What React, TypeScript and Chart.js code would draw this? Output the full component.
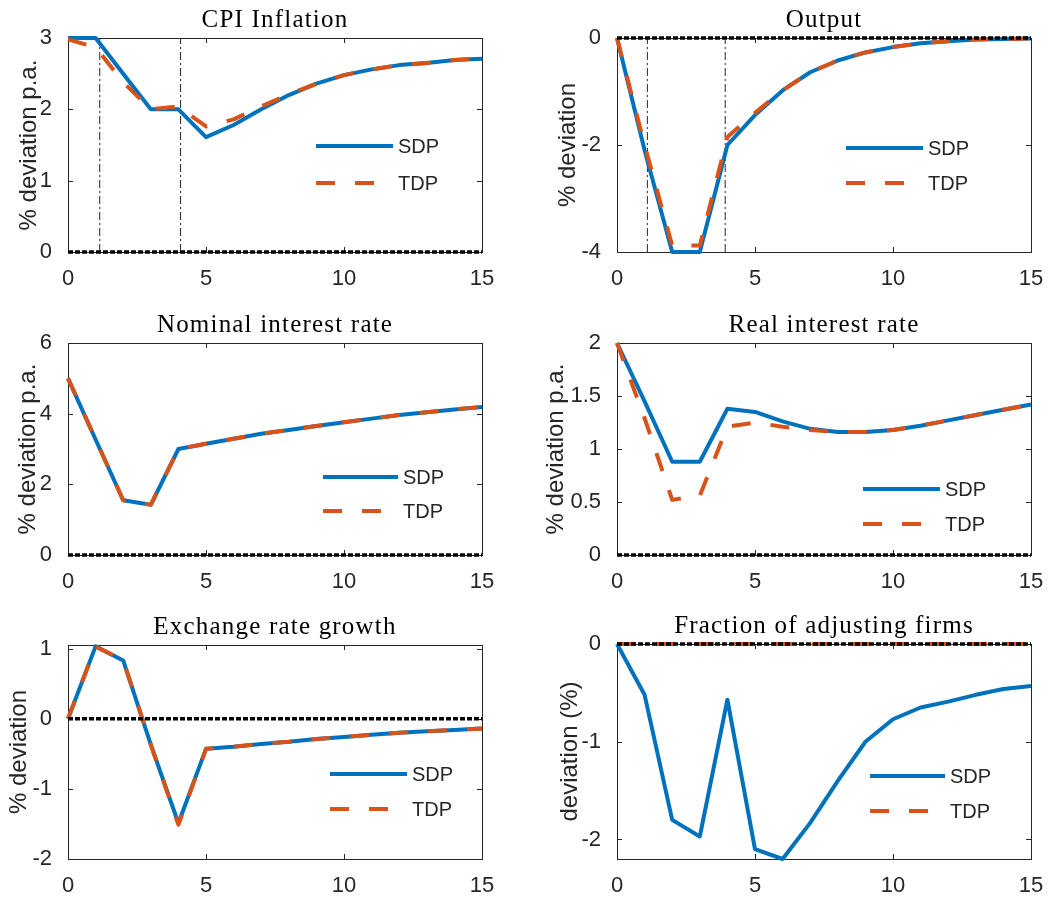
import React, { useEffect, useRef } from "react";
import { Chart, registerables } from "chart.js";

Chart.register(...registerables);

// ---------- data ----------
const periods = [0, 1, 2, 3, 4, 5, 6, 7, 8, 9, 10, 11, 12, 13, 14, 15];
const xTicks = [0, 5, 10, 15];
const seriesNames = ["SDP", "TDP"];

const cpiSDP = [3.0, 3.0, 2.5, 2.0, 2.0, 1.61, 1.78, 2.0, 2.2, 2.36, 2.48, 2.56, 2.62, 2.65, 2.69, 2.71];
const cpiTDP = [2.98, 2.87, 2.38, 2.0, 2.04, 1.76, 1.86, 2.04, 2.21, 2.36, 2.48, 2.56, 2.62, 2.65, 2.69, 2.72];
const cpiTicks = [0, 1, 2, 3];
const cpiMarkers = [1.15, 4.08];

const outputSDP = [0, -2.1, -4.0, -4.0, -2.0, -1.44, -0.98, -0.64, -0.42, -0.27, -0.17, -0.1, -0.06, -0.03, -0.02, -0.01];
const outputTDP = [0, -2.0, -3.88, -3.88, -1.85, -1.4, -0.98, -0.64, -0.42, -0.27, -0.17, -0.1, -0.06, -0.03, -0.02, -0.01];
const outputTicks = [-4, -2, 0];
const outputMarkers = [1.1, 3.92];

const nominalSDP = [5.0, 3.27, 1.55, 1.42, 3.0, 3.15, 3.29, 3.43, 3.54, 3.65, 3.76, 3.86, 3.96, 4.04, 4.12, 4.19];
const nominalTDP = [5.0, 3.27, 1.55, 1.42, 3.0, 3.15, 3.29, 3.43, 3.54, 3.65, 3.76, 3.86, 3.96, 4.04, 4.12, 4.19];
const nominalTicks = [0, 2, 4, 6];

const realSDP = [2.0, 1.45, 0.88, 0.88, 1.38, 1.35, 1.26, 1.19, 1.16, 1.16, 1.18, 1.22, 1.27, 1.32, 1.37, 1.42];
const realTDP = [2.0, 1.29, 0.52, 0.56, 1.21, 1.25, 1.21, 1.18, 1.16, 1.16, 1.18, 1.22, 1.27, 1.32, 1.37, 1.42];
const realTicks = [0, 0.5, 1, 1.5, 2];

const exchangeSDP = [0, 1.03, 0.83, -0.37, -1.49, -0.43, -0.4, -0.36, -0.33, -0.29, -0.26, -0.23, -0.2, -0.18, -0.16, -0.14];
const exchangeTDP = [0, 1.03, 0.83, -0.37, -1.51, -0.43, -0.4, -0.36, -0.33, -0.29, -0.26, -0.23, -0.2, -0.18, -0.16, -0.14];
const exchangeTicks = [-2, -1, 0, 1];

const fractionSDP = [0, -0.52, -1.8, -1.97, -0.57, -2.1, -2.2, -1.83, -1.4, -1.0, -0.77, -0.65, -0.59, -0.52, -0.46, -0.43];
const fractionTDP = [0, 0, 0, 0, 0, 0, 0, 0, 0, 0, 0, 0, 0, 0, 0, 0];
const fractionTicks = [-2, -1, 0];

// ---------- styles ----------
const BLUE = "#0072BD";
const ORANGE = "#D95319";
const AXIS = "#262626";
const SANS = '"Liberation Sans", Arial, Helvetica, sans-serif';
const SERIF = '"Liberation Serif", "Times New Roman", serif';

type Panel = {
  title: string;
  yLabel: string;
  sdp: number[];
  tdp: number[];
  yMin: number;
  yMax: number;
  yTicks: number[];
  markers: number[];
  left: number;
  top: number;
  w: number;
  h: number;
  area: { l: number; r: number; t: number; b: number };
  yLabelGap: number;
  legend: { x1: number; x2: number; y1: number; y2: number };
};

const panels: Panel[] = [
  {
    title: "CPI Inflation", yLabel: "% deviation p.a.", sdp: cpiSDP, tdp: cpiTDP,
    yMin: 0, yMax: 3, yTicks: cpiTicks, markers: cpiMarkers,
    left: 0, top: 0, w: 525, h: 300, area: { l: 68, r: 482, t: 38, b: 252 }, yLabelGap: 39,
    legend: { x1: 316, x2: 393, y1: 146, y2: 183 },
  },
  {
    title: "Output", yLabel: "% deviation", sdp: outputSDP, tdp: outputTDP,
    yMin: -4, yMax: 0, yTicks: outputTicks, markers: outputMarkers,
    left: 525, top: 0, w: 525, h: 300, area: { l: 92, r: 506, t: 38, b: 252 }, yLabelGap: 49,
    legend: { x1: 321, x2: 398, y1: 148, y2: 183 },
  },
  {
    title: "Nominal interest rate", yLabel: "% deviation p.a.", sdp: nominalSDP, tdp: nominalTDP,
    yMin: 0, yMax: 6, yTicks: nominalTicks, markers: [],
    left: 0, top: 300, w: 525, h: 300, area: { l: 68, r: 482, t: 43, b: 255 }, yLabelGap: 40,
    legend: { x1: 323, x2: 398, y1: 177, y2: 211 },
  },
  {
    title: "Real interest rate", yLabel: "% deviation p.a.", sdp: realSDP, tdp: realTDP,
    yMin: 0, yMax: 2, yTicks: realTicks, markers: [],
    left: 525, top: 300, w: 525, h: 300, area: { l: 92, r: 506, t: 43, b: 255 }, yLabelGap: 61,
    legend: { x1: 338, x2: 415, y1: 189, y2: 224 },
  },
  {
    title: "Exchange rate growth", yLabel: "% deviation", sdp: exchangeSDP, tdp: exchangeTDP,
    yMin: -2, yMax: 1.05, yTicks: exchangeTicks, markers: [],
    left: 0, top: 600, w: 525, h: 297, area: { l: 68, r: 482, t: 45, b: 259 }, yLabelGap: 49,
    legend: { x1: 330, x2: 407, y1: 174, y2: 209 },
  },
  {
    title: "Fraction of adjusting firms", yLabel: "deviation (%)", sdp: fractionSDP, tdp: fractionTDP,
    yMin: -2.2, yMax: 0, yTicks: fractionTicks, markers: [],
    left: 525, top: 600, w: 525, h: 297, area: { l: 92, r: 506, t: 44, b: 259 }, yLabelGap: 47,
    legend: { x1: 345, x2: 420, y1: 176, y2: 211 },
  },
];

function makeDecor(p: Panel) {
  return {
    id: "decor",
    beforeDatasetsDraw(chart: any) {
      const { ctx, chartArea: a, scales } = chart;
      ctx.save();
      ctx.strokeStyle = AXIS;
      ctx.lineWidth = 1;
      ctx.setLineDash([]);
      ctx.strokeRect(Math.round(a.left) + 0.5, Math.round(a.top) + 0.5, Math.round(a.right - a.left), Math.round(a.bottom - a.top));
      const tl = 5;
      ctx.beginPath();
      for (const v of xTicks) {
        const px = Math.round(scales.x.getPixelForValue(v)) + 0.5;
        ctx.moveTo(px, a.bottom);
        ctx.lineTo(px, a.bottom - tl);
        ctx.moveTo(px, a.top);
        ctx.lineTo(px, a.top + tl);
      }
      for (const v of p.yTicks) {
        const py = Math.round(scales.y.getPixelForValue(v)) + 0.5;
        ctx.moveTo(a.left, py);
        ctx.lineTo(a.left + tl, py);
        ctx.moveTo(a.right, py);
        ctx.lineTo(a.right - tl, py);
      }
      ctx.stroke();
      ctx.restore();
    },
    afterDraw(chart: any) {
      const { ctx, chartArea: a } = chart;
      ctx.save();
      // title
      ctx.fillStyle = "#000";
      ctx.font = `25px ${SERIF}`;
      (ctx as any).letterSpacing = "1.2px";
      ctx.textAlign = "center";
      ctx.textBaseline = "middle";
      ctx.fillText(p.title, (a.left + a.right) / 2, a.top - 18);
      (ctx as any).letterSpacing = "0px";
      // y label
      ctx.save();
      ctx.translate(a.left - p.yLabelGap, (a.top + a.bottom) / 2);
      ctx.rotate(-Math.PI / 2);
      ctx.fillStyle = AXIS;
      ctx.font = `24px ${SANS}`;
      ctx.textAlign = "center";
      ctx.textBaseline = "middle";
      ctx.fillText(p.yLabel, 0, 0);
      ctx.restore();
      // legend
      const L = p.legend;
      const entries = [
        { name: seriesNames[0], color: BLUE, dash: [] as number[], y: L.y1 },
        { name: seriesNames[1], color: ORANGE, dash: [19, 20], y: L.y2 },
      ];
      for (const e of entries) {
        ctx.strokeStyle = e.color;
        ctx.lineWidth = 4;
        ctx.lineCap = "butt";
        ctx.setLineDash(e.dash);
        ctx.beginPath();
        ctx.moveTo(L.x1, e.y);
        ctx.lineTo(L.x2, e.y);
        ctx.stroke();
        ctx.setLineDash([]);
        ctx.fillStyle = AXIS;
        ctx.font = `20px ${SANS}`;
        ctx.textAlign = "left";
        ctx.textBaseline = "middle";
        ctx.fillText(e.name, L.x2 + 5, e.y + 1);
      }
      ctx.restore();
    },
  };
}

function PanelChart({ p }: { p: Panel }) {
  const ref = useRef<HTMLCanvasElement | null>(null);
  useEffect(() => {
    if (!ref.current) return;
    const pts = (arr: number[]) => periods.map((x, i) => ({ x, y: arr[i] }));
    const markerSets = p.markers.map((m) => ({
      label: "marker",
      data: [{ x: m, y: p.yMin }, { x: m, y: p.yMax }],
      borderColor: AXIS,
      borderWidth: 1,
      borderDash: [8, 3, 2, 3],
      pointRadius: 0,
      order: 3,
      clip: false as any,
    }));
    const chart = new Chart(ref.current, {
      type: "line",
      data: {
        datasets: [
          {
            label: "zero",
            data: [{ x: periods[0], y: 0 }, { x: periods[periods.length - 1], y: 0 }],
            borderColor: "#000",
            borderWidth: 3.5,
            borderDash: [5, 2],
            pointRadius: 0,
            order: 0,
            clip: false as any,
          },
          {
            label: seriesNames[0],
            data: pts(p.sdp),
            borderColor: BLUE,
            borderWidth: 4,
            pointRadius: 0,
            borderJoinStyle: "round",
            order: 2,
            clip: false as any,
          },
          {
            label: seriesNames[1],
            data: pts(p.tdp),
            borderColor: ORANGE,
            borderWidth: 4,
            borderDash: [19, 20],
            pointRadius: 0,
            borderJoinStyle: "round",
            order: 1,
            clip: false as any,
          },
          ...markerSets,
        ] as any,
      },
      options: {
        animation: false,
        responsive: false,
        events: [],
        layout: { padding: { left: 0, top: p.area.t, right: p.w - p.area.r, bottom: 0 } },
        plugins: { legend: { display: false }, tooltip: { enabled: false }, title: { display: false } },
        elements: { line: { tension: 0 }, point: { radius: 0 } },
        scales: {
          x: {
            type: "linear",
            min: 0,
            max: 15,
            grid: { display: false },
            border: { display: false },
            ticks: { padding: 6, color: AXIS, font: { family: SANS, size: 22 }, maxRotation: 0, callback: (v: any) => String(v) },
            afterBuildTicks: (s: any) => { s.ticks = xTicks.map((v) => ({ value: v })); },
            afterFit: (s: any) => { s.height = p.h - p.area.b; s.paddingLeft = 0; s.paddingRight = 0; },
          },
          y: {
            type: "linear",
            min: p.yMin,
            max: p.yMax,
            grid: { display: false },
            border: { display: false },
            ticks: { padding: 8, color: AXIS, font: { family: SANS, size: 22 }, callback: (v: any) => String(v) },
            afterBuildTicks: (s: any) => { s.ticks = p.yTicks.map((v) => ({ value: v })); },
            afterFit: (s: any) => { s.width = p.area.l; s.paddingTop = 0; s.paddingBottom = 0; },
          },
        },
      } as any,
      plugins: [makeDecor(p)],
    });
    return () => chart.destroy();
  }, [p]);
  return (
    <canvas
      ref={ref}
      width={p.w}
      height={p.h}
      style={{ position: "absolute", left: p.left, top: p.top, width: p.w, height: p.h }}
    />
  );
}

export default function App() {
  return (
    <div style={{ position: "absolute", left: 0, top: 0, width: 1050, height: 897, background: "#fff" }}>
      {panels.map((p) => (
        <PanelChart key={p.title} p={p} />
      ))}
    </div>
  );
}
